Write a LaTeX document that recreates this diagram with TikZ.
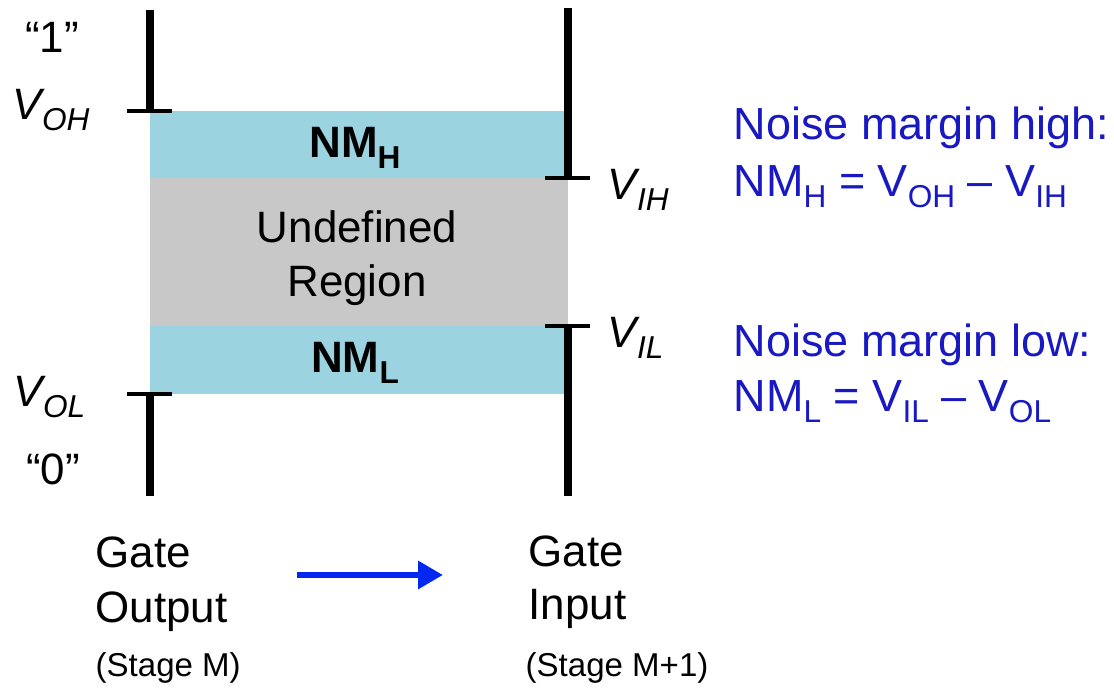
\documentclass[tikz,border=0pt]{standalone}
\usepackage{fontspec}
\setmainfont{Liberation Sans}
\usetikzlibrary{arrows.meta}
\newcommand{\lowtxt}[1]{\raisebox{-0.105cm}{\fontsize{9}{9}\selectfont #1}}
\begin{document}
\begin{tikzpicture}[
  rail/.style={line width=2.1pt},
  tickmark/.style={line width=0.9pt},
  lbl/.style={inner sep=0pt, font=\fontsize{12.5}{15}\selectfont},
  small/.style={inner sep=0pt, font=\fontsize{9.4}{11}\selectfont},
  note/.style={inner sep=0pt, font=\fontsize{12.8}{15}\selectfont, text=noteblue}]
\definecolor{marginblue}{RGB}{155,211,224}
\definecolor{undefgray}{RGB}{200,200,200}
\definecolor{noteblue}{RGB}{25,25,195}
\definecolor{arrowblue}{RGB}{0,40,240}

	\useasboundingbox (0,0) rectangle (11.14,6.88);

	% bands
	\fill[marginblue] (1.50,5.10) rectangle (5.68,5.77);
	\fill[undefgray] (1.50,3.62) rectangle (5.68,5.10);
	\fill[marginblue] (1.50,2.94) rectangle (5.68,3.62);

	% output levels
	\draw[rail] (1.50,6.78) -- (1.50,5.77);
	\draw[tickmark] (1.27,5.77) -- (1.72,5.77);
	\draw[rail] (1.50,2.94) -- (1.50,1.92);
	\draw[tickmark] (1.27,2.94) -- (1.72,2.94);

	% input levels
	\draw[rail] (5.68,6.80) -- (5.68,5.10);
	\draw[tickmark] (5.45,5.10) -- (5.90,5.10);
	\draw[rail] (5.68,3.62) -- (5.68,1.92);
	\draw[tickmark] (5.45,3.62) -- (5.90,3.62);

	\node[lbl,anchor=base] (one) at (0.52,6.35){“1”};
	\node[lbl,anchor=base west] (voh) at (0.12,5.68){\itshape V\lowtxt{OH}};
	\node[lbl,anchor=base west] (vol) at (0.13,2.81){\itshape V\lowtxt{OL}};
	\node[lbl,anchor=base] (zero) at (0.53,2.03){“0”};

	\node[lbl,anchor=base west] (vih) at (6.07,4.88){\itshape V\lowtxt{IH}};
	\node[lbl,anchor=base west] (vil) at (6.07,3.40){\itshape V\lowtxt{IL}};

	\node[lbl,anchor=base] (nmh) at (3.55,5.30){\bfseries NM\lowtxt{H}};
	\node[lbl,anchor=base] (undef) at (3.57,4.45){Undefined};
	\node[lbl,anchor=base] (region) at (3.57,3.91){Region};
	\node[lbl,anchor=base] (nml) at (3.55,3.15){\bfseries NM\lowtxt{L}};

	% definitions
	\node[note,anchor=base west] (highdef) at (7.33,5.48){Noise margin high:};
	\node[note,anchor=base west] (higheq) at (7.33,4.91){NM\lowtxt{H} = V\lowtxt{OH} – V\lowtxt{IH}};
	\node[note,anchor=base west] (lowdef) at (7.33,3.31){Noise margin low:};
	\node[note,anchor=base west] (loweq) at (7.33,2.76){NM\lowtxt{L} = V\lowtxt{IL} – V\lowtxt{OL}};

	% stages
	\node[lbl,anchor=base west] (outgate) at (0.95,1.20){Gate};
	\node[lbl,anchor=base west] (outword) at (0.95,0.65){Output};
	\node[small,anchor=base west] (outstage) at (0.95,0.11){(Stage M)};
	\node[lbl,anchor=base west] (ingate) at (5.28,1.21){Gate};
	\node[lbl,anchor=base west] (inword) at (5.28,0.68){Input};
	\node[small,anchor=base west] (instage) at (5.25,0.11){(Stage M+1)};

	\coordinate (flowstart) at (2.97,1.13);
	\coordinate (flowend) at (4.43,1.13);
	\draw[-{Triangle[length=0.25cm,width=0.27cm]},arrowblue,line width=1.8pt] (flowstart) -- (flowend);

\end{tikzpicture}
\end{document}
